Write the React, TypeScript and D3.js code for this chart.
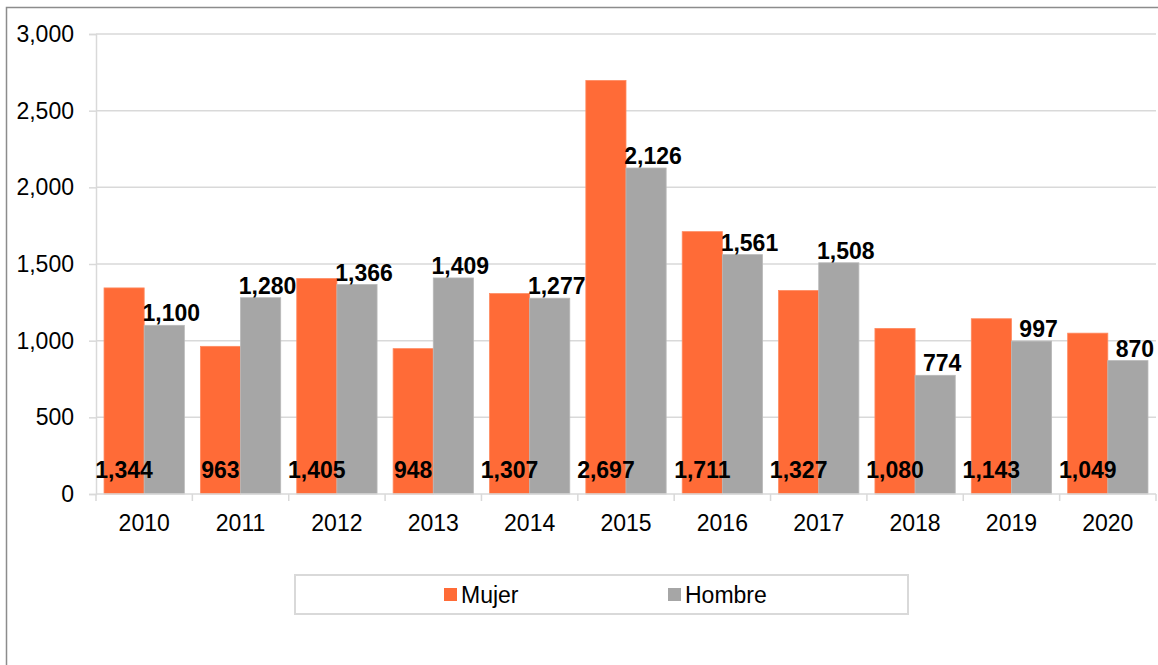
import * as React from "react";
import * as d3 from "d3";

const years = ["2010", "2011", "2012", "2013", "2014", "2015", "2016", "2017", "2018", "2019", "2020"];
const mujer = [1344, 963, 1405, 948, 1307, 2697, 1711, 1327, 1080, 1143, 1049];
const hombre = [1100, 1280, 1366, 1409, 1277, 2126, 1561, 1508, 774, 997, 870];
const yTicks = [0, 500, 1000, 1500, 2000, 2500, 3000];
const seriesNames = ["Mujer", "Hombre"];

const W = 1158;
const H = 665;
const FONT = "'Liberation Sans', Arial, sans-serif";
const ORANGE = "#FF6B37";
const GREY = "#A6A6A6";

const App: React.FC = () => {
    const svgRef = React.useRef<SVGSVGElement | null>(null);

    React.useEffect(() => {
        if (!svgRef.current) return;
        const svg = d3.select(svgRef.current);
        svg.selectAll("*").remove();

        const plot = { left: 96, right: 1156, top: 34, bottom: 494 };
        const fmt = d3.format(",");

        // outer frame
        svg.append("rect")
            .attr("x", 6.5).attr("y", 7.5)
            .attr("width", W + 10).attr("height", H + 10)
            .attr("fill", "white")
            .attr("stroke", "#8c8c8c").attr("stroke-width", 1.5);

        const x = d3.scaleBand<string>()
            .domain(years)
            .range([plot.left, plot.right]);

        const inner = d3.scaleBand<string>()
            .domain(seriesNames)
            .range([0, x.bandwidth()])
            .paddingOuter(0.2);

        const y = d3.scaleLinear()
            .domain([0, 3000])
            .range([plot.bottom, plot.top]);

        // gridlines
        svg.append("g")
            .selectAll("line")
            .data(yTicks.filter(t => t > 0))
            .enter().append("line")
            .attr("x1", plot.left).attr("x2", plot.right)
            .attr("y1", d => y(d)).attr("y2", d => y(d))
            .attr("stroke", "#d9d9d9").attr("stroke-width", 1.5);

        // y axis
        const yAxis = svg.append("g")
            .attr("transform", `translate(${plot.left},0)`)
            .call(d3.axisLeft(y).tickValues(yTicks).tickFormat(d => fmt(d as number)).tickSize(7).tickPadding(15));
        yAxis.select(".domain").attr("stroke", "#d9d9d9").attr("stroke-width", 1.5);
        yAxis.selectAll(".tick line").attr("stroke", "#d9d9d9").attr("stroke-width", 1.5);
        yAxis.selectAll("text")
            .attr("font-family", FONT).attr("font-size", 23).attr("fill", "#000");

        // bars
        const groups = svg.append("g")
            .selectAll("g")
            .data(years)
            .enter().append("g")
            .attr("transform", d => `translate(${x(d)},0)`);

        groups.append("rect")
            .attr("x", inner("Mujer")!)
            .attr("width", inner.bandwidth())
            .attr("y", (d, i) => y(mujer[i]))
            .attr("height", (d, i) => y(0) - y(mujer[i]))
            .attr("fill", ORANGE)
            .attr("stroke", "#ff8a60").attr("stroke-width", 0.8);

        groups.append("rect")
            .attr("x", inner("Hombre")!)
            .attr("width", inner.bandwidth())
            .attr("y", (d, i) => y(hombre[i]))
            .attr("height", (d, i) => y(0) - y(hombre[i]))
            .attr("fill", GREY)
            .attr("stroke", "#b8b8b8").attr("stroke-width", 0.8);

        // x axis
        const xAxis = svg.append("g")
            .attr("transform", `translate(0,${plot.bottom})`);
        xAxis.append("line")
            .attr("x1", plot.left).attr("x2", plot.right)
            .attr("stroke", "#d9d9d9").attr("stroke-width", 1.5);
        xAxis.selectAll(".tk")
            .data(d3.range(years.length + 1))
            .enter().append("line")
            .attr("class", "tk")
            .attr("x1", i => plot.left + i * x.step())
            .attr("x2", i => plot.left + i * x.step())
            .attr("y1", 0).attr("y2", 7)
            .attr("stroke", "#d9d9d9").attr("stroke-width", 1.5);
        xAxis.selectAll("text")
            .data(years)
            .enter().append("text")
            .attr("x", d => x(d)! + x.bandwidth() / 2)
            .attr("y", 37)
            .attr("text-anchor", "middle")
            .attr("font-family", FONT).attr("font-size", 23)
            .text(d => d);

        // data labels
        groups.append("text")
            .attr("x", inner("Mujer")! + inner.bandwidth() / 2)
            .attr("y", plot.bottom - 16)
            .attr("text-anchor", "middle")
            .attr("font-family", FONT).attr("font-size", 23).attr("font-weight", "bold")
            .text((d, i) => fmt(mujer[i]));

        groups.append("text")
            .attr("x", inner("Hombre")! + inner.bandwidth() / 2 + 7)
            .attr("y", (d, i) => y(hombre[i]) - 4)
            .attr("text-anchor", "middle")
            .attr("font-family", FONT).attr("font-size", 23).attr("font-weight", "bold")
            .text((d, i) => fmt(hombre[i]));

        // legend
        const legend = svg.append("g");
        legend.append("rect")
            .attr("x", 295).attr("y", 575)
            .attr("width", 613).attr("height", 39)
            .attr("fill", "white")
            .attr("stroke", "#d9d9d9").attr("stroke-width", 2);

        const legendX = [444, 668];
        const colors = [ORANGE, GREY];
        seriesNames.forEach((name, i) => {
            legend.append("rect")
                .attr("x", legendX[i]).attr("y", 588)
                .attr("width", 13).attr("height", 13)
                .attr("fill", colors[i]);
            legend.append("text")
                .attr("x", legendX[i] + 17).attr("y", 603)
                .attr("font-family", FONT).attr("font-size", 23)
                .text(name);
        });
    }, []);

    return (
        <svg
            ref={svgRef}
            width={W}
            height={H}
            style={{ position: "absolute", left: 0, top: 0, background: "white" }}
        />
    );
};

export default App;
